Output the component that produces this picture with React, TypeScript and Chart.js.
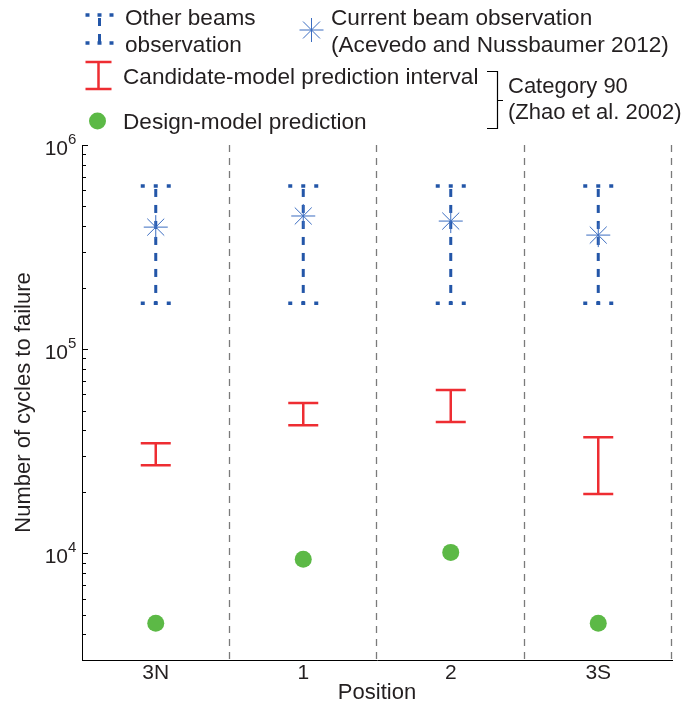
import React, { useEffect, useRef } from 'react';
import { Chart, registerables } from 'chart.js';
Chart.register(...registerables);

const positions = ['3N', '1', '2', '3S'];
const otherLow = [168000, 168000, 168000, 168000];
const otherHigh = [630000, 630000, 630000, 630000];
const currentObs = [396000, 449000, 424000, 362000];
const candLow = [27000, 42400, 43900, 19500];
const candHigh = [34600, 54400, 63000, 37000];
const designPred = [4540, 9350, 10100, 4540];
const yMajorTicks = [1e4, 1e5, 1e6];
const yMajorExp = ['4', '5', '6'];
const yMin = 3000;
const yMax = 1e6;

const FONT = '"Liberation Sans", Arial, Helvetica, sans-serif';
const TXT = '#231f20';
const BLUE = '#2356a8';
const STAR = '#3a6cc0';
const RED = '#ee2d32';
const GREEN = '#5cb946';
const GRAY = '#7a7a7a';

function drawOtherIcon(ctx: CanvasRenderingContext2D, cx: number, yTop: number, yBot: number, half: number) {
  ctx.save();
  ctx.strokeStyle = BLUE;
  ctx.lineWidth = 3.5;
  ctx.setLineDash([4, half - 6]);
  [yTop, yBot].forEach((yy) => {
    ctx.beginPath();
    ctx.moveTo(cx - half, yy);
    ctx.lineTo(cx + half + 1, yy);
    ctx.stroke();
  });
  ctx.lineWidth = 3;
  ctx.setLineDash([8, 8]);
  ctx.lineDashOffset = -3;
  ctx.beginPath();
  ctx.moveTo(cx, yTop);
  ctx.lineTo(cx, yBot);
  ctx.stroke();
  ctx.restore();
}

function drawInterval(ctx: CanvasRenderingContext2D, cx: number, yTop: number, yBot: number, half: number) {
  ctx.save();
  ctx.strokeStyle = RED;
  ctx.lineWidth = 2.5;
  ctx.beginPath();
  ctx.moveTo(cx - half, yTop);
  ctx.lineTo(cx + half, yTop);
  ctx.moveTo(cx, yTop);
  ctx.lineTo(cx, yBot);
  ctx.moveTo(cx - half, yBot);
  ctx.lineTo(cx + half, yBot);
  ctx.stroke();
  ctx.restore();
}

const customPlugin = {
  id: 'customDraw',
  beforeDatasetsDraw(chart: any) {
    const { ctx, chartArea: a, scales } = chart;
    const x = scales.x;
    const y = scales.y;
    ctx.save();
    // separators
    ctx.strokeStyle = GRAY;
    ctx.lineWidth = 1.3;
    ctx.setLineDash([7, 6]);
    for (let i = 1; i <= positions.length; i++) {
      const px = Math.round(x.getPixelForValue(i + 0.5)) - 0.5;
      ctx.beginPath();
      ctx.moveTo(px, a.top);
      ctx.lineTo(px, a.bottom);
      ctx.stroke();
    }
    ctx.setLineDash([]);
    // inward ticks on y axis
    ctx.strokeStyle = '#000';
    ctx.lineWidth = 1;
    const decades = [1e3, 1e4, 1e5];
    decades.forEach((d) => {
      for (let m = 1; m <= 9; m++) {
        const v = d * m;
        if (v < yMin || v > yMax) continue;
        const py = Math.round(y.getPixelForValue(v)) + 0.5;
        const len = m === 1 ? 6 : 4;
        ctx.beginPath();
        ctx.moveTo(a.left, py);
        ctx.lineTo(a.left + len, py);
        ctx.stroke();
      }
    });
    {
      const py = Math.round(y.getPixelForValue(1e6)) + 0.5;
      ctx.beginPath();
      ctx.moveTo(a.left, py);
      ctx.lineTo(a.left + 6, py);
      ctx.stroke();
    }
    // other beams ranges
    positions.forEach((_, i) => {
      const cx = x.getPixelForValue(i + 1);
      drawOtherIcon(ctx, cx, y.getPixelForValue(otherHigh[i]), y.getPixelForValue(otherLow[i]), 15);
    });
    // candidate intervals
    positions.forEach((_, i) => {
      const cx = x.getPixelForValue(i + 1);
      drawInterval(ctx, cx, y.getPixelForValue(candHigh[i]), y.getPixelForValue(candLow[i]), 15);
    });
    ctx.restore();
  },
  afterDraw(chart: any) {
    const { ctx, chartArea: a, scales } = chart;
    const y = scales.y;
    ctx.save();
    // y tick labels with superscripts
    ctx.fillStyle = TXT;
    yMajorTicks.forEach((v, i) => {
      const py = y.getPixelForValue(v);
      ctx.font = `21px ${FONT}`;
      ctx.textAlign = 'right';
      ctx.textBaseline = 'alphabetic';
      ctx.fillText('10', a.left - 14, py + 9.5);
      ctx.font = `15px ${FONT}`;
      ctx.textAlign = 'left';
      ctx.fillText(yMajorExp[i], a.left - 14, py - 1);
    });
    // legend
    ctx.font = `22.6px ${FONT}`;
    ctx.textAlign = 'left';
    ctx.textBaseline = 'alphabetic';
    drawOtherIcon(ctx, 99.5, 15, 43, 14);
    ctx.fillStyle = TXT;
    ctx.fillText('Other beams', 125, 25);
    ctx.fillText('observation', 125, 52);
    // star icon
    ctx.save();
    ctx.strokeStyle = STAR;
    ctx.lineWidth = 1;
    const sx = 311.5, sy = 30, r = 12;
    ctx.beginPath();
    ctx.moveTo(sx - r, sy); ctx.lineTo(sx + r, sy);
    ctx.moveTo(sx, sy - r); ctx.lineTo(sx, sy + r);
    const d = r * Math.SQRT1_2;
    ctx.moveTo(sx - d, sy - d); ctx.lineTo(sx + d, sy + d);
    ctx.moveTo(sx - d, sy + d); ctx.lineTo(sx + d, sy - d);
    ctx.stroke();
    ctx.restore();
    ctx.fillText('Current beam observation', 331, 25);
    ctx.fillText('(Acevedo and Nussbaumer 2012)', 331, 52);
    drawInterval(ctx, 98.5, 62, 89, 13);
    ctx.fillText('Candidate-model prediction interval', 123, 84);
    ctx.fillStyle = GREEN;
    ctx.beginPath();
    ctx.arc(97.5, 121, 8.5, 0, Math.PI * 2);
    ctx.fill();
    ctx.fillStyle = TXT;
    ctx.fillText('Design-model prediction', 123, 129);
    // bracket
    ctx.strokeStyle = '#000';
    ctx.lineWidth = 1.2;
    ctx.beginPath();
    ctx.moveTo(487, 71.5); ctx.lineTo(497.5, 71.5); ctx.lineTo(497.5, 128.5); ctx.lineTo(487, 128.5);
    ctx.moveTo(497.5, 100.5); ctx.lineTo(503, 100.5);
    ctx.stroke();
    ctx.font = `22px ${FONT}`;
    ctx.fillText('Category 90', 508, 93);
    ctx.fillText('(Zhao et al. 2002)', 508, 119);
    ctx.restore();
  },
};

export default function App() {
  const ref = useRef<HTMLCanvasElement>(null);
  useEffect(() => {
    if (!ref.current) return;
    const chart = new Chart(ref.current, {
      type: 'scatter',
      data: {
        datasets: [
          {
            label: 'Current beam observation',
            data: currentObs.map((v, i) => ({ x: i + 1, y: v })),
            pointStyle: 'star',
            radius: 12,
            borderColor: STAR,
            backgroundColor: STAR,
            borderWidth: 1,
          },
          {
            label: 'Design-model prediction',
            data: designPred.map((v, i) => ({ x: i + 1, y: v })),
            pointStyle: 'circle',
            radius: 8.5,
            backgroundColor: GREEN,
            borderWidth: 0,
          },
        ],
      },
      options: {
        animation: false,
        responsive: false,
        layout: { padding: { top: 145, right: 16, left: 0, bottom: 0 } },
        plugins: { legend: { display: false }, tooltip: { enabled: false } },
        scales: {
          x: {
            type: 'linear',
            min: 0.5,
            max: 4.5,
            afterBuildTicks: (s: any) => {
              s.ticks = positions.map((_, i) => ({ value: i + 1 }));
            },
            afterFit: (s: any) => {
              s.height = 46;
            },
            ticks: {
              callback: (v: any) => positions[Math.round(v) - 1] ?? '',
              font: { family: FONT, size: 21 },
              color: TXT,
              padding: 1,
              maxRotation: 0,
            },
            grid: { display: false, drawTicks: false },
            border: { display: true, color: '#000', width: 1 },
            title: {
              display: true,
              text: 'Position',
              font: { family: FONT, size: 22 },
              color: TXT,
              padding: { top: 0, bottom: 0 },
            },
          },
          y: {
            type: 'logarithmic',
            min: yMin,
            max: yMax,
            afterFit: (s: any) => {
              s.width = 82;
            },
            ticks: { callback: () => '' },
            grid: { display: false, drawTicks: false },
            border: { display: true, color: '#000', width: 1 },
            title: {
              display: true,
              text: 'Number of cycles to failure',
              font: { family: FONT, size: 22 },
              color: TXT,
              padding: { top: 11, bottom: 0 },
            },
          },
        },
      },
      plugins: [customPlugin],
    });
    return () => chart.destroy();
  }, []);
  return (
    <div style={{ position: 'absolute', left: 0, top: 0, width: 688, height: 706, background: '#fff' }}>
      <canvas ref={ref} width={688} height={706} style={{ display: 'block' }} />
    </div>
  );
}
